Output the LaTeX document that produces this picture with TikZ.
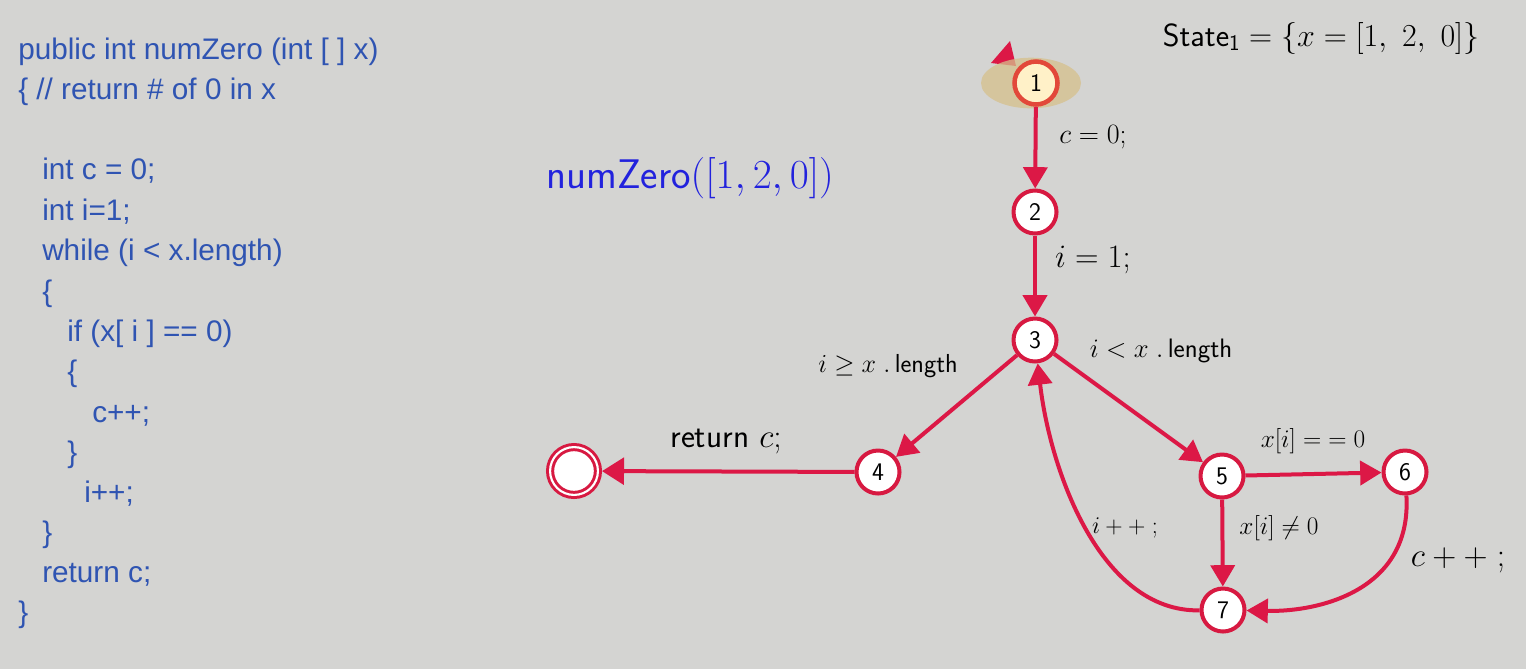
\documentclass[tikz,border=0pt]{standalone}
\usepackage{fix-cm}
\usepackage{fontspec}
\newfontfamily\codefont{Liberation Sans}
\usetikzlibrary{arrows.meta,shapes.geometric}
\definecolor{bg}{RGB}{212,212,210}
\definecolor{edgecol}{RGB}{220,24,70}
\definecolor{nodecol}{RGB}{215,25,65}
\definecolor{codecol}{RGB}{47,84,178}
\definecolor{titlecol}{RGB}{34,34,221}
\definecolor{startfill}{RGB}{255,241,200}
\definecolor{startdraw}{RGB}{226,72,58}
\definecolor{halo}{RGB}{214,192,140}
\begin{document}
\begin{tikzpicture}[x=0.75pt,y=-0.75pt,
  state/.style={circle, draw=nodecol, line width=3pt, fill=white, minimum size=32.25pt, inner sep=0pt,
    font=\sffamily\fontsize{19}{19}\selectfont},
  edge/.style={draw=edgecol, line width=3pt, -{Triangle[length=16pt,width=18pt]}},
  code/.style={anchor=base west, inner sep=0pt, text=codecol, font=\codefont\fontsize{22.3}{26}\selectfont},
  lbl/.style={inner sep=0pt}
]
\useasboundingbox (0,0) rectangle (1526,669);
\fill[bg] (0,0) rectangle (1526,669);

% code
\node[code] (c1) at (18,59) {public int numZero (int [ ] x)};
\node[code] (c2) at (18,99) {\{ // return \# of 0 in x};
\node[code] (c3) at (42,179) {int c = 0;};
\node[code] (c4) at (42,220) {int i=1;};
\node[code] (c5) at (42,260) {while (i < x.length)};
\node[code] (c6) at (42,301) {\{};
\node[code] (c7) at (67,341) {if (x[ i ] == 0)};
\node[code] (c8) at (67,381) {\{};
\node[code] (c9) at (92,422) {c++;};
\node[code] (c10) at (67,462) {\}};
\node[code] (c11) at (84,502) {i++;};
\node[code] (c12) at (42,542) {\}};
\node[code] (c13) at (42,582) {return c;};
\node[code] (c14) at (18,622) {\}};

% titles
\node[lbl, text=titlecol, font=\fontsize{31}{31}\selectfont] (title) at (690,178) {\textsf{numZero}$([1,2,0])$};
\node[lbl, font=\fontsize{24}{24}\selectfont] (st) at (1321,38) {\textsf{State}$_{\mathsf{1}}=\{x=[1,\ 2,\ 0]\}$};

% start marker and halo
\fill[edgecol] (991,63) -- (1010,41) -- (1016,66) -- cycle;
\node[ellipse, fill=halo, fill opacity=0.75, minimum width=75pt, minimum height=38pt, inner sep=0pt] (halo) at (1031,83) {};

% nodes
\node[state, draw=startdraw, fill=startfill, line width=3.4pt] (n1) at (1036,83) {1};
\node[state] (n2) at (1035,212) {2};
\node[state] (n3) at (1035,340) {3};
\node[state] (n4) at (878,472) {4};
\node[state] (n5) at (1222,476) {5};
\node[state] (n6) at (1405,472) {6};
\node[state] (n7) at (1223,610) {7};
\node[circle, draw=nodecol, line width=2.25pt, double=white, double distance=1.6pt, fill=white,
  minimum size=35.9pt, inner sep=0pt, outer sep=3.05pt] (nend) at (574,471) {};

% edges
\draw[edge] (n1) -- (n2);
\draw[edge] (n2) -- (n3);
\draw[edge] (n3) -- (n4);
\draw[edge] (n3) -- (n5);
\draw[edge,-{Triangle[length=16.5pt,width=20pt]}] (n4) -- (nend);
\draw[edge] (n5) -- (n6);
\draw[edge] (n5) -- (n7);
\draw[edge] (n6) .. controls (1412,590) and (1320,612) .. (n7);
\draw[edge] (n7) .. controls (1100,612) and (1050,470) .. (n3);

% labels
\node[lbl, font=\fontsize{21}{21}\selectfont] (l12) at (1093,137) {$c=0;$};
\node[lbl, font=\fontsize{24.5}{24.5}\selectfont] (l23) at (1093,260) {$i=1;$};
\node[lbl, font=\fontsize{19.5}{19.5}\selectfont] (l34) at (888,366) {$i\geq x\;.\,$\textsf{length}};
\node[lbl, font=\fontsize{20}{20}\selectfont] (l35) at (1161,351) {$i<x\;.\,$\textsf{length}};
\node[lbl, font=\fontsize{25}{25}\selectfont] (l4e) at (726,442) {\textsf{return} $c;$};
\node[lbl, font=\fontsize{19}{19}\selectfont] (l56) at (1313,441) {$x[i]=\mkern5mu=0$};
\node[lbl, font=\fontsize{19}{19}\selectfont] (l57) at (1279,528) {$x[i]\neq0$};
\node[lbl, font=\fontsize{25}{25}\selectfont] (l67) at (1458,560) {$c\mathbin{+}\mathbin{+}\;;$};
\node[lbl, font=\fontsize{18}{18}\selectfont] (l73) at (1125,528) {$i\mathbin{+}\mathbin{+}\;;$};
\end{tikzpicture}
\end{document}
